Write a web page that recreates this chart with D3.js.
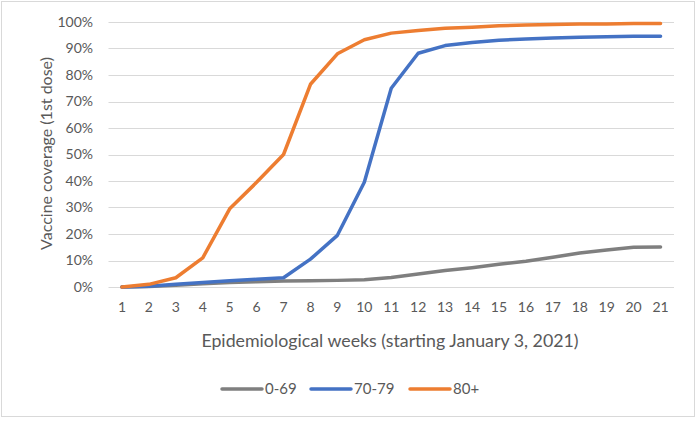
<!DOCTYPE html>
<html lang="en">
<head>
<meta charset="utf-8">
<style type="text/css">
    body { margin: 0; background: #fff; }
    text { font-family: Lato, "Open Sans", sans-serif; fill: #595959; }
    .grid line { stroke: #d9d9d9; stroke-width: 1px; }
</style>
</head>
<body>
<svg width="700" height="422"></svg>
<script src="https://cdn.jsdelivr.net/npm/d3@7/dist/d3.min.js"></script>
<script type="text/javascript">
// weeks 1..21
var weeks = d3.range(1, 22);
var yTicks = [0, 10, 20, 30, 40, 50, 60, 70, 80, 90, 100];

var seriesNames = ["0-69", "70-79", "80+"];
var seriesColors = ["#7f7f7f", "#4472c4", "#ed7d31"];

// values in percent
var age0_69 = [0, 0.2, 0.7, 1.2, 1.7, 2.0, 2.3, 2.4, 2.5, 2.7, 3.6, 4.9, 6.2, 7.3, 8.6, 9.7, 11.2, 12.8, 14.0, 15.0, 15.1];
var age70_79 = [0, 0.3, 1.0, 1.7, 2.4, 2.9, 3.5, 10.5, 19.5, 39.5, 75.0, 88.2, 91.1, 92.3, 93.1, 93.6, 94.0, 94.2, 94.4, 94.6, 94.6];
var age80 = [0, 1.0, 3.5, 11.0, 29.5, 39.5, 50.0, 76.5, 88.0, 93.3, 95.8, 96.8, 97.6, 98.0, 98.6, 98.9, 99.1, 99.2, 99.2, 99.4, 99.4];

var allSeries = [age0_69, age70_79, age80];

var svg = d3.select("svg");

// outer frame
svg.append("rect")
    .attr("x", 1.5).attr("y", 1.5)
    .attr("width", 693).attr("height", 415)
    .attr("fill", "#fff")
    .attr("stroke", "#d9d9d9");

var x = d3.scaleBand().domain(weeks).range([108.5, 674]);
var y = d3.scaleLinear().domain([0, 100]).range([287, 22]);

// gridlines
svg.append("g").attr("class", "grid")
    .selectAll("line")
    .data(yTicks)
    .enter().append("line")
    .attr("x1", 108.5).attr("x2", 674)
    .attr("y1", function(d){ return Math.round(y(d)) + 0.5; })
    .attr("y2", function(d){ return Math.round(y(d)) + 0.5; });

// y axis labels
var yAxis = d3.axisLeft(y).tickValues(yTicks).tickSize(0).tickPadding(0)
    .tickFormat(function(d){ return d + "%"; });
var gy = svg.append("g").attr("transform", "translate(93,0)").call(yAxis);
gy.select(".domain").remove();
gy.selectAll("text").style("font-size", "14px").attr("fill", "#595959").attr("font-family", null);

// x axis labels
var xAxis = d3.axisBottom(x).tickSize(0).tickPadding(0);
var gx = svg.append("g").attr("transform", "translate(0,302)").call(xAxis);
gx.select(".domain").remove();
gx.selectAll("text").style("font-size", "14px").attr("fill", "#595959").attr("font-family", null);

// axis titles
svg.append("text")
    .attr("x", 390)
    .attr("y", 347)
    .attr("text-anchor", "middle")
    .style("font-size", "17.8px")
    .text("Epidemiological weeks (starting January 3, 2021)");

svg.append("text")
    .attr("transform", "translate(52," + ((y(0) + y(100)) / 2 - 1) + ") rotate(-90)")
    .attr("text-anchor", "middle")
    .style("font-size", "16px")
    .text("Vaccine coverage (1st dose)");

// lines
var line = d3.line()
    .x(function(d, i){ return x(weeks[i]) + x.bandwidth() / 2; })
    .y(function(d){ return y(d); });

svg.selectAll(".series")
    .data(allSeries)
    .enter().append("path")
    .attr("class", "series")
    .attr("d", line)
    .attr("fill", "none")
    .attr("stroke", function(d, i){ return seriesColors[i]; })
    .attr("stroke-width", 3.5)
    .attr("stroke-linejoin", "round")
    .attr("stroke-linecap", "round");

// legend
var legendX = [222, 311, 410];
var lg = svg.selectAll(".legend")
    .data(seriesNames)
    .enter().append("g")
    .attr("class", "legend")
    .attr("transform", function(d, i){ return "translate(" + legendX[i] + ",389)"; });
lg.append("line")
    .attr("x1", 0).attr("x2", 40)
    .attr("stroke", function(d, i){ return seriesColors[i]; })
    .attr("stroke-width", 3.5)
    .attr("stroke-linecap", "round");
lg.append("text")
    .attr("x", 43).attr("dy", "0.35em")
    .style("font-size", "15px")
    .text(function(d){ return d; });
</script>
</body>
</html>
